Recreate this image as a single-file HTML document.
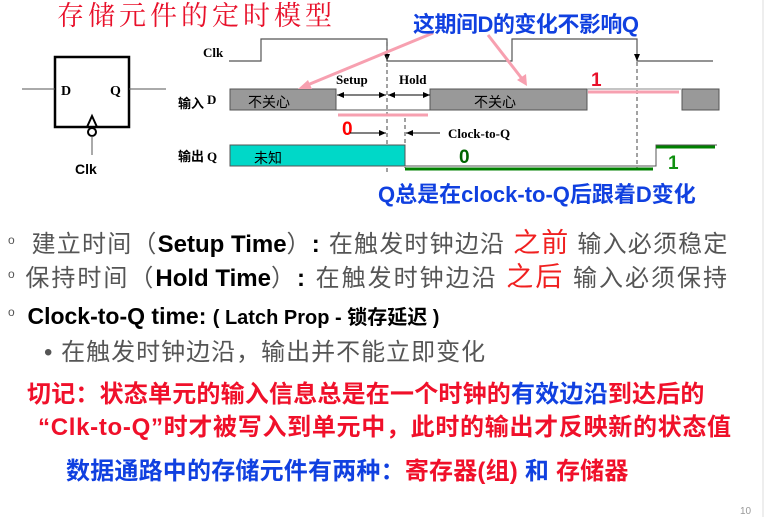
<!DOCTYPE html>
<html><head><meta charset="utf-8"><style>
body{margin:0;width:767px;height:517px;background:#fff;overflow:hidden;position:relative;font-family:"Liberation Sans","Noto Sans CJK SC",sans-serif}
.t{position:absolute;white-space:nowrap;line-height:1}
</style></head><body>
<svg width="767" height="517" style="position:absolute;left:0;top:0" font-family="Liberation Serif,Noto Serif CJK SC,serif">
<line x1="763" y1="0" x2="763" y2="517" stroke="#ddd" stroke-width="1"/>
<text x="57" y="25" font-size="27" fill="#e8102a" font-family="Noto Serif CJK SC,serif" letter-spacing="4">存储元件的定时模型</text>
<rect x="55" y="57" width="74" height="70" fill="none" stroke="#000" stroke-width="2.5"/>
<line x1="22" y1="89" x2="55" y2="89" stroke="#555"/>
<line x1="129" y1="89" x2="166" y2="89" stroke="#555"/>
<text x="61" y="95" font-size="14" font-weight="bold">D</text>
<text x="110" y="95" font-size="14" font-weight="bold">Q</text>
<polyline points="87,127 92,116 97,127" fill="none" stroke="#000" stroke-width="2"/>
<circle cx="92" cy="132" r="4" fill="#fff" stroke="#000" stroke-width="2"/>
<line x1="92" y1="136" x2="92" y2="155" stroke="#555"/>
<text x="75" y="174" font-size="14" font-weight="bold" font-family="Liberation Sans,sans-serif">Clk</text>
<text x="203" y="57" font-size="13" font-weight="bold">Clk</text>
<polyline points="229,61 261,61 261,39 387,39 387,61 512,61 512,39 637,39 637,61 713,61" fill="none" stroke="#555" stroke-width="1.2"/>
<polygon points="384,54 390,54 387,61" fill="#000"/>
<polygon points="634,54 640,54 637,61" fill="#000"/>
<g stroke="#444" stroke-dasharray="4,3"><line x1="387" y1="42" x2="387" y2="172"/><line x1="405" y1="118" x2="405" y2="168"/><line x1="637" y1="62" x2="637" y2="168"/></g>
<text x="178" y="108" font-size="13" font-weight="bold" font-family="Noto Sans CJK SC,sans-serif">输入</text><text x="207" y="104" font-size="13" font-weight="bold">D</text>
<rect x="230" y="89" width="106" height="21" fill="#999" stroke="#555"/>
<text x="248" y="107" font-size="14" font-family="Noto Sans CJK SC,sans-serif">不关心</text>
<line x1="336" y1="110" x2="430" y2="110" stroke="#555"/>
<rect x="430" y="89" width="157" height="21" fill="#999" stroke="#555"/>
<text x="474" y="107" font-size="14" font-family="Noto Sans CJK SC,sans-serif">不关心</text>
<line x1="587" y1="89" x2="681" y2="89" stroke="#888"/>
<line x1="588" y1="92" x2="679" y2="92" stroke="#f7a0b0" stroke-width="3"/>
<rect x="682" y="89" width="37" height="21" fill="#999" stroke="#555"/>
<line x1="338" y1="115" x2="428" y2="115" stroke="#f7a0b0" stroke-width="3"/>
<text x="591" y="86" font-size="19" font-weight="bold" fill="#e8102a" font-family="Liberation Sans,sans-serif">1</text>
<text x="342" y="135" font-size="19" font-weight="bold" fill="#f00" font-family="Liberation Sans,sans-serif">0</text>
<text x="336" y="84" font-size="13" font-weight="bold">Setup</text>
<text x="399" y="84" font-size="13" font-weight="bold">Hold</text>
<g stroke="#000"><line x1="337" y1="95" x2="386" y2="95"/><line x1="388" y1="95" x2="430" y2="95"/><line x1="350" y1="133" x2="386" y2="133"/><line x1="406" y1="133" x2="440" y2="133"/></g>
<g fill="#000"><polygon points="337,95 344,92 344,98"/><polygon points="386,95 379,92 379,98"/><polygon points="388,95 395,92 395,98"/><polygon points="430,95 423,92 423,98"/><polygon points="386,133 379,130 379,136"/><polygon points="406,133 413,130 413,136"/></g>
<text x="448" y="138" font-size="13" font-weight="bold">Clock-to-Q</text>
<text x="178" y="161" font-size="13" font-weight="bold" font-family="Noto Sans CJK SC,sans-serif">输出</text><text x="207" y="161" font-size="13" font-weight="bold">Q</text>
<rect x="230" y="145" width="175" height="21" fill="#00d8c8" stroke="#555"/>
<text x="254" y="163" font-size="14" font-family="Noto Sans CJK SC,sans-serif">未知</text>
<polyline points="405,166 656,166 656,145 717,145" fill="none" stroke="#555"/>
<line x1="405" y1="169" x2="653" y2="169" stroke="#008000" stroke-width="3"/>
<line x1="656" y1="147" x2="715" y2="147" stroke="#008000" stroke-width="3"/>
<text x="459" y="163" font-size="19" font-weight="bold" fill="#006400" font-family="Liberation Sans,sans-serif">0</text>
<text x="668" y="169" font-size="19" font-weight="bold" fill="#109010" font-family="Liberation Sans,sans-serif">1</text>
<line x1="433" y1="33" x2="305" y2="86" stroke="#f7a0b0" stroke-width="3"/>
<polygon points="298,89 308,80 312,89" fill="#f7a0b0"/>
<line x1="488" y1="35" x2="523" y2="80" stroke="#f7a0b0" stroke-width="3"/>
<polygon points="527,86 517,80 526,74" fill="#f7a0b0"/>
</svg>
<div class="t" style="left:413px;top:14px;font-size:22px;font-weight:bold;color:#1040e0;letter-spacing:-0.5px">这期间D的变化不影响Q</div>
<div class="t" style="left:378px;top:184px;font-size:22px;font-weight:bold;color:#1040e0">Q总是在clock-to-Q后跟着D变化</div>
<div class="t" style="left:8px;top:230px;font-size:24px;color:#555;letter-spacing:1.2px"><span style="font-size:12px;vertical-align:8px">o</span>&nbsp; 建立时间（<b style="color:#000;letter-spacing:0">Setup Time</b>）<b style="color:#000">:</b> 在触发时钟边沿 <span style="color:#f02020;font-size:27px">之前</span> 输入必须稳定</div>
<div class="t" style="left:8px;top:264px;font-size:24px;color:#555;letter-spacing:2px"><span style="font-size:12px;vertical-align:8px">o</span> 保持时间（<b style="color:#000;letter-spacing:0">Hold Time</b>）<b style="color:#000">:</b> 在触发时钟边沿 <span style="color:#f02020;font-size:27px">之后</span> 输入必须保持</div>
<div class="t" style="left:8px;top:305px;font-size:23px;color:#000"><span style="font-size:12px;vertical-align:8px;color:#555">o</span>&nbsp; <b>Clock-to-Q time:</b> <b style="font-size:20px">( Latch Prop - 锁存延迟 )</b></div>
<div class="t" style="left:44px;top:341px;font-size:24px;color:#555;letter-spacing:1px">• 在触发时钟边沿，输出并不能立即变化</div>
<div class="t" style="left:27px;top:383px;font-size:24px;font-weight:bold;color:#f0102a;letter-spacing:0.2px">切记：状态单元的输入信息总是在一个时钟的<span style="color:#1040e0">有效边沿</span>到达后的</div>
<div class="t" style="left:38px;top:416px;font-size:24px;font-weight:bold;color:#f0102a;letter-spacing:0.7px">“Clk-to-Q”时才被写入到单元中，此时的输出才反映新的状态值</div>
<div class="t" style="left:66px;top:460px;font-size:24px;font-weight:bold;color:#1040e0;letter-spacing:0.2px">数据通路中的存储元件有两种：<span style="color:#f0102a">寄存器(组)</span> 和 <span style="color:#f0102a">存储器</span></div>
<div class="t" style="left:740px;top:507px;font-size:10px;color:#999">10</div>
</body></html>
